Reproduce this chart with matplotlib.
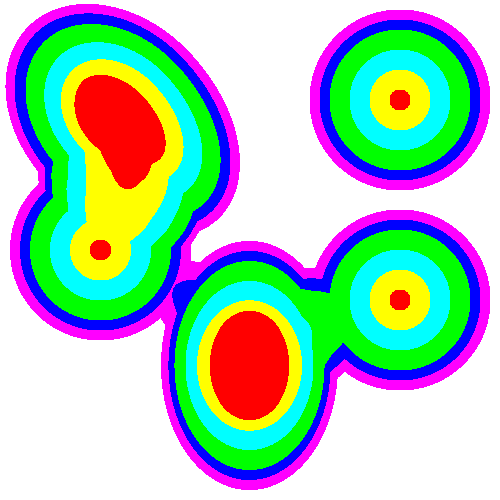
import numpy as np
import matplotlib
matplotlib.use("Agg")
import matplotlib.pyplot as plt

# Sources (pixel coordinates, y downward). Each source has ring radii along
# its four half-axes: +a, -a (axis at src_angle) and +b, -b (perpendicular).
src_x = [400.0, 400.0, 249.5, 100.5, 118.0]
src_y = [100.0, 300.0, 365.5, 250.0, 116.0]
src_angle = [0.0, 0.0, 90.0, 0.0, 45.0]
pt = [10, 30, 50, 70, 80, 90]
ell_v = [54.5, 64.5, 84, 104, 114, 124]
ell_h = [39.5, 52, 63.5, 74.5, 80.5, 88]
src_ra_pos = [pt, pt, ell_v, pt, [59.5, 79, 101, 122, 133, 143]]
src_ra_neg = [pt, pt, ell_v, pt, [49, 64, 83, 104, 116, 126]]
src_rb_pos = [pt, pt, ell_h, pt, [37, 48, 62, 78, 88, 96]]
src_rb_neg = [pt, pt, ell_h, pt, [31, 47, 62, 77, 86, 95]]

# Level of each ring and band colours (low to high)
ring_level = [0.9, 0.7, 0.5, 0.3, 0.2, 0.1]
band_levels = [0.1, 0.2, 0.3, 0.5, 0.7, 0.9]
band_colors = ["#FF00FF", "#0000FF", "#00FF00", "#00FFFF", "#FFFF00", "#FF0000"]

W = H = 500
xs = np.arange(W) + 0.5
ys = np.arange(H) + 0.5
X, Y = np.meshgrid(xs, ys)


def source_field(cx, cy, ang, rap, ran, rbp, rbn):
    t = np.deg2rad(ang)
    dx, dy = X - cx, Y - cy
    u = dx * np.cos(t) + dy * np.sin(t)
    v = -dx * np.sin(t) + dy * np.cos(t)
    r = np.hypot(u, v)
    rs = np.maximum(r, 1e-9)
    c2 = (u / rs) ** 2
    s2 = (v / rs) ** 2
    rad = [np.zeros_like(r)]
    for k in range(len(ring_level)):
        a = np.where(u >= 0, rap[k], ran[k])
        b = np.where(v >= 0, rbp[k], rbn[k])
        rad.append(1.0 / np.sqrt(c2 / a ** 2 + s2 / b ** 2))
    rad.append(rad[-1] + (rad[-1] - rad[-2]))
    vals = [1.0] + list(ring_level) + [0.0]
    f = np.zeros_like(r)
    for j in range(len(rad) - 1):
        m = (r >= rad[j]) & (r < rad[j + 1])
        frac = (r[m] - rad[j][m]) / (rad[j + 1][m] - rad[j][m])
        f[m] = vals[j] + frac * (vals[j + 1] - vals[j])
    return f


F = np.zeros_like(X)
for i in range(len(src_x)):
    F += source_field(src_x[i], src_y[i], src_angle[i], src_ra_pos[i],
                      src_ra_neg[i], src_rb_pos[i], src_rb_neg[i])

fig = plt.figure(figsize=(5, 5), dpi=100)
ax = fig.add_axes([0, 0, 1, 1])
ax.contourf(X, Y, F, levels=band_levels + [1e9], colors=band_colors,
            antialiased=False)
ax.set_xlim(0, W)
ax.set_ylim(H, 0)
ax.axis("off")
fig.savefig("out.png", dpi=100, facecolor="white")
